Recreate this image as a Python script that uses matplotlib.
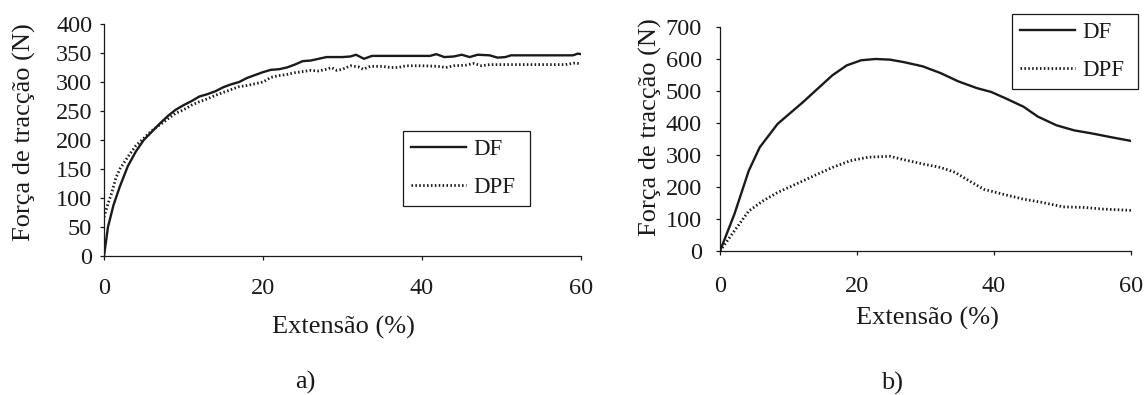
import matplotlib
matplotlib.use("Agg")
import matplotlib.pyplot as plt

plt.rcParams['font.family'] = ['Liberation Serif', 'DejaVu Serif']

# a) curvas força-extensão
a_df_x = [0, 0.5, 1.2, 2, 3, 4, 5, 6, 7, 8, 9, 10, 11, 12, 13, 14, 15, 16, 17, 18, 19, 20,
          21, 22, 23, 24, 25, 26, 27, 28, 29, 30, 31, 31.7, 32.7, 33.7, 36, 38, 41, 41.8,
          42.8, 44, 45, 46, 47, 48.5, 49.5, 50.5, 51.2, 54, 57, 59, 59.6, 60]
a_df_y = [0, 50, 88, 120, 155, 180, 200, 214, 228, 241, 252, 260, 267, 275, 279, 284, 291,
          296, 300, 307, 312, 317, 321, 322, 325, 330, 336, 337, 340, 343, 343, 343, 344,
          347, 340, 345, 345, 345, 345, 348, 343, 344, 347, 343, 347, 346, 342, 343, 346,
          346, 346, 346, 349, 348]
a_dpf_x = [0, 0.5, 1, 1.5, 2, 3, 4, 5, 6, 7, 8, 9, 10, 11, 12, 13, 14, 15, 16, 17, 18, 19,
           20, 21, 22, 23, 24, 25, 26, 27, 28, 28.6, 29.3, 30, 31, 32, 32.6, 33.5, 35, 36,
           37, 38, 40, 42, 43, 44, 45.5, 46.5, 47.5, 48.5, 50, 52, 55, 58, 59.3, 60]
a_dpf_y = [67, 90, 110, 135, 150, 171, 190, 203, 216, 226, 236, 246, 252, 260, 266, 271,
           277, 282, 287, 292, 294, 297, 300, 308, 311, 313, 316, 318, 320, 319, 322, 325,
           320, 322, 328, 326, 322, 327, 327, 325, 325, 328, 328, 327, 325, 328, 329, 332,
           328, 330, 330, 330, 330, 330, 333, 331]

# b)
b_df_x = [0, 2.1, 4.2, 5.8, 8.4, 12.1, 16.4, 18.5, 20.6, 22.7, 24.8, 26.9, 29.6, 32.2,
          34.8, 37.5, 39.6, 41.7, 44.3, 46.4, 49.1, 51.7, 54.4, 57, 60]
b_df_y = [0, 115, 251, 324, 397, 465, 549, 580, 596, 600, 598, 590, 577, 556, 530, 509,
          497, 477, 451, 420, 393, 377, 367, 356, 344]
b_dpf_x = [0, 2.1, 4.2, 6.3, 8.4, 11.1, 13.7, 16.4, 19, 21.6, 24.8, 26.9, 29.6, 32.2,
           34.3, 36.4, 38.5, 41.2, 44.3, 47, 50.1, 53.3, 55.9, 60]
b_dpf_y = [0, 63, 125, 157, 183, 209, 235, 261, 282, 293, 296, 285, 272, 261, 246, 219,
           193, 178, 162, 152, 138, 136, 131, 127]

ylabel = "Força de tracção (N)"
xlabel = "Extensão (%)"
ink = "#1a1a1a"
dots = (0, (0.55, 0.85))

fig = plt.figure(figsize=(11.46, 3.95), dpi=100)
W, H = 1146, 395

def box(x0, x1, ytop, ybot):
    return [x0 / W, 1 - ybot / H, (x1 - x0) / W, (ybot - ytop) / H]

ax1 = fig.add_axes(box(104, 581, 24, 256))
ax2 = fig.add_axes(box(720, 1131, 27, 251))

ax1.plot(a_df_x, a_df_y, color=ink, lw=1.7, label="DF")
ax1.plot(a_dpf_x, a_dpf_y, color=ink, lw=2.0, ls=dots, label="DPF")
ax2.plot(b_df_x, b_df_y, color=ink, lw=1.7, label="DF")
ax2.plot(b_dpf_x, b_dpf_y, color=ink, lw=2.0, ls=dots, label="DPF")

ax1.set_ylim(0, 400)
ax1.set_yticks(range(0, 401, 50))
ax2.set_ylim(0, 700)
ax2.set_yticks(range(0, 701, 100))

for ax, ypad, xpad in [(ax1, 5.5, 12.5), (ax2, 10, 15)]:
    ax.set_xlim(0, 60)
    ax.set_xticks([0, 20, 40, 60])
    for s in ["top", "right"]:
        ax.spines[s].set_visible(False)
    for s in ["left", "bottom"]:
        ax.spines[s].set_color(ink)
        ax.spines[s].set_linewidth(0.9)
    ax.tick_params(axis="y", direction="out", length=3, width=0.9, color=ink,
                   labelsize=17.5, pad=ypad, labelcolor=ink)
    ax.tick_params(axis="x", direction="out", length=3, width=0.9, color=ink,
                   labelsize=17.5, pad=xpad, labelcolor=ink)
    ax.set_ylabel(ylabel, fontsize=19, color=ink, va="center")
    ax.set_xlabel(xlabel, fontsize=19, color=ink, va="center")

ax1.yaxis.set_label_coords((24 - 104) / 477, (256 - 132) / 232)
ax1.xaxis.set_label_coords((343 - 104) / 477, (256 - 327) / 232)
ax2.yaxis.set_label_coords((650 - 720) / 411, (251 - 127) / 224)
ax2.xaxis.set_label_coords((927 - 720) / 411, (251 - 318) / 224)

leg_kw = dict(loc="upper left", mode="expand", bbox_transform=fig.transFigure,
              borderaxespad=0, fontsize=16.5, handlelength=2.4, handletextpad=0.3,
              borderpad=0.35, labelspacing=0.75, fancybox=False, framealpha=1,
              edgecolor=ink)
l1 = ax1.legend(bbox_to_anchor=(403 / W, 1 - 131 / H, 127 / W, 0), **leg_kw)
l2 = ax2.legend(bbox_to_anchor=(1012 / W, 1 - 14 / H, 126 / W, 0), **leg_kw)
for lg in (l1, l2):
    lg.get_frame().set_linewidth(0.9)
    for t in lg.get_texts():
        t.set_color(ink)

fig.text(305 / W, 1 - 382 / H, "a)", fontsize=19, ha="center", va="center", color=ink)
fig.text(892 / W, 1 - 383 / H, "b)", fontsize=19, ha="center", va="center", color=ink)

fig.savefig("out.png", dpi=100, facecolor="white")
